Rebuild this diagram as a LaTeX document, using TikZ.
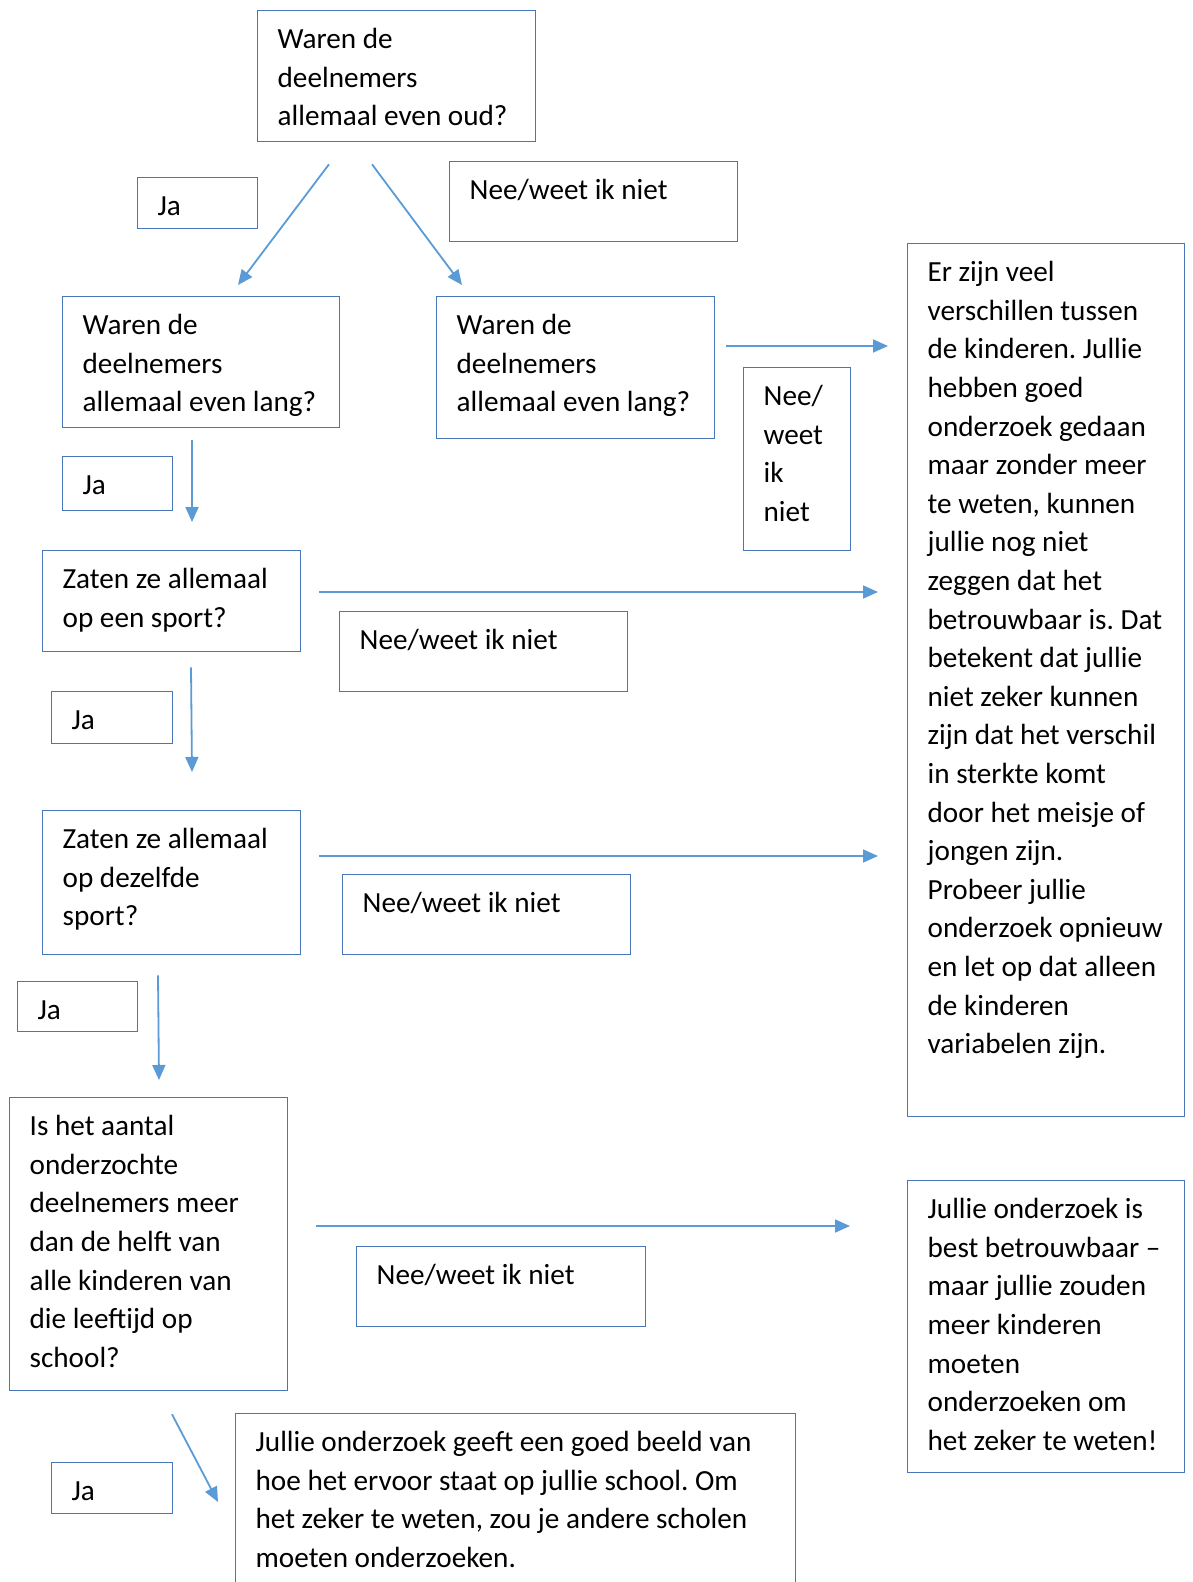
\documentclass[tikz,border=0pt]{standalone}
\usepackage{fontspec}
\setmainfont{Carlito}
\usetikzlibrary{arrows.meta,calc}
\definecolor{boxblue}{RGB}{72,118,185}
\definecolor{arrblue}{RGB}{91,155,213}
\tikzset{
  box/.style={draw=boxblue, line width=1.3pt, fill=white, anchor=north west,
    inner xsep=20pt, inner ysep=11.4pt, text height=26.6pt, text=black},
  conn/.style={draw=arrblue, line width=1.8pt, -{Triangle[length=15pt,width=13pt]}}
}
\newcommand{\bx}[6]{%
  \pgfmathsetmacro\bw{#4-#2}\pgfmathsetmacro\bh{#5-#3-49.4}%
  \node[box, minimum width=\bw pt, text depth=\bh pt] (#1) at (#2,#3)
    {\parbox[t]{\dimexpr\bw pt-40pt\relax}{\strut #6}};}
\begin{document}
\begin{tikzpicture}[x=1pt,y=-1pt]
\fontsize{29.2}{38.6}\selectfont\frenchspacing
\useasboundingbox (0,0) rectangle (1192,1582);
\bx{b1}{257}{10}{535}{141}{Waren de\\deelnemers\\allemaal even oud?}
\bx{ja1}{137}{177}{257}{228}{Ja}
\bx{nee1}{449}{161}{737}{241}{Nee/weet ik niet}
\bx{b2L}{62}{296}{339}{427}{Waren de\\deelnemers\\allemaal even lang?}
\bx{b2R}{436}{296}{714}{438}{Waren de\\deelnemers\\allemaal even lang?}
\bx{neeV}{743}{367}{850}{550}{Nee/\\weet\\ik\\niet}
\bx{rbox}{907}{243}{1184}{1116}{Er zijn veel\\verschillen tussen\\de kinderen. Jullie\\hebben goed\\onderzoek gedaan\\maar zonder meer\\te weten, kunnen\\jullie nog niet\\zeggen dat het\\betrouwbaar is. Dat\\betekent dat jullie\\niet zeker kunnen\\zijn dat het verschil\\in sterkte komt\\door het meisje of\\jongen zijn.\\Probeer jullie\\onderzoek opnieuw\\en let op dat alleen\\de kinderen\\variabelen zijn.}
\bx{ja2}{62}{456}{172}{510}{Ja}
\bx{b3}{42}{550}{300}{651}{Zaten ze allemaal\\op een sport?}
\bx{nee3}{339}{611}{627}{691}{Nee/weet ik niet}
\bx{ja3}{51}{691}{172}{743}{Ja}
\bx{b4}{42}{810}{300}{954}{Zaten ze allemaal\\op dezelfde\\sport?}
\bx{nee4}{342}{874}{630}{954}{Nee/weet ik niet}
\bx{ja4}{17}{981}{137}{1031}{Ja}
\bx{b5}{9}{1097}{287}{1390}{Is het aantal\\onderzochte\\deelnemers meer\\dan de helft van\\alle kinderen van\\die leeftijd op\\school?}
\bx{nee5}{356}{1246}{645}{1326}{Nee/weet ik niet}
\bx{r2}{907}{1180}{1184}{1472}{Jullie onderzoek is\\best betrouwbaar --\\maar jullie zouden\\meer kinderen\\moeten\\onderzoeken om\\het zeker te weten!}
\bx{ja5}{51}{1462}{172}{1513}{Ja}
\bx{bt}{235}{1413}{795}{1640}{Jullie onderzoek geeft een goed beeld van\\hoe het ervoor staat op jullie school. Om\\het zeker te weten, zou je andere scholen\\moeten onderzoeken.}
% connectors
\draw[conn] ($(b1.south west)+(72,22)$) -- ($(b2L.north west)+(176,-11)$);
\draw[conn] ($(b1.south west)+(115,22)$) -- ($(b2R.north west)+(26,-11)$);
\draw[conn] ($(b2R.north east)+(11,50)$) -- ($(rbox.north west)+(-19,103)$);
\draw[conn] ($(b2L.south west)+(130,12)$) -- ($(b3.north west)+(150,-28)$);
\draw[conn] ($(b3.north east)+(18,42)$) -- ($(rbox.north west)+(-29,349)$);
\draw[conn] ($(b3.south west)+(149,15)$) -- ($(b4.north west)+(150,-38)$);
\draw[conn] ($(b4.north east)+(18,46)$) -- ($(rbox.north west)+(-29,613)$);
\draw[conn] ($(b4.south west)+(116,20)$) -- ($(b5.north west)+(150,-17)$);
\draw[conn] ($(b5.north east)+(28,129)$) -- ($(r2.north west)+(-57,46)$);
\draw[conn] ($(b5.south west)+(163,23)$) -- ($(bt.north west)+(-17,89)$);
\end{tikzpicture}
\end{document}
